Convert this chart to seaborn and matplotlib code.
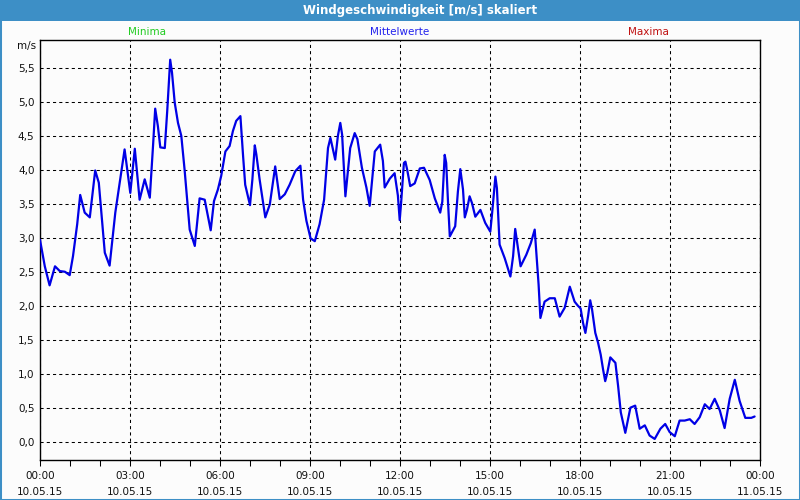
import matplotlib
matplotlib.use("Agg")
import matplotlib.pyplot as plt
import pandas as pd
import seaborn as sns
from matplotlib.patches import Rectangle

# ---- data (hours since 10.05.15 00:00, wind speed m/s) ----
hours = [0.00, 0.07, 0.16, 0.32, 0.50, 0.66, 0.83, 0.99, 1.10, 1.24, 1.34, 1.49,
         1.66, 1.84, 1.96, 2.16, 2.32, 2.51, 2.69, 2.82, 2.91, 3.01, 3.16, 3.32,
         3.49, 3.66, 3.77, 3.84, 3.93, 4.01, 4.16, 4.24, 4.34, 4.40, 4.49, 4.60,
         4.71, 4.82, 4.99, 5.16, 5.32, 5.49, 5.69, 5.80, 5.93, 6.04, 6.18, 6.32,
         6.43, 6.54, 6.68, 6.77, 6.84, 7.00, 7.08, 7.16, 7.21, 7.32, 7.51, 7.66,
         7.84, 7.99, 8.16, 8.32, 8.51, 8.68, 8.77, 8.88, 9.02, 9.16, 9.32, 9.47,
         9.60, 9.68, 9.84, 9.93, 10.01, 10.07, 10.18, 10.34, 10.49, 10.58, 10.73, 10.88,
         10.99, 11.16, 11.34, 11.43, 11.49, 11.66, 11.82, 11.93, 11.99, 12.04, 12.13, 12.18,
         12.24, 12.34, 12.49, 12.66, 12.80, 12.99, 13.16, 13.34, 13.41, 13.49, 13.54, 13.60,
         13.66, 13.84, 13.93, 14.01, 14.10, 14.16, 14.23, 14.32, 14.40, 14.51, 14.68, 14.84,
         15.01, 15.07, 15.18, 15.23, 15.32, 15.49, 15.68, 15.77, 15.84, 16.02, 16.21, 16.36,
         16.49, 16.57, 16.62, 16.68, 16.82, 16.99, 17.16, 17.32, 17.49, 17.66, 17.82, 17.93,
         18.02, 18.10, 18.18, 18.27, 18.34, 18.40, 18.51, 18.60, 18.69, 18.77, 18.84, 18.91,
         19.01, 19.18, 19.27, 19.36, 19.51, 19.68, 19.84, 19.99, 20.16, 20.32, 20.49, 20.68,
         20.84, 20.99, 21.16, 21.32, 21.49, 21.66, 21.82, 21.99, 22.16, 22.32, 22.49, 22.66,
         22.82, 22.99, 23.16, 23.32, 23.51, 23.71, 23.82]
speed = [2.97, 2.80, 2.58, 2.30, 2.58, 2.51, 2.50, 2.45, 2.73, 3.20, 3.63, 3.37,
         3.30, 3.99, 3.81, 2.78, 2.59, 3.37, 3.91, 4.30, 4.00, 3.66, 4.31, 3.56,
         3.86, 3.59, 4.37, 4.90, 4.64, 4.33, 4.32, 4.86, 5.62, 5.43, 4.99, 4.69,
         4.50, 4.00, 3.12, 2.88, 3.58, 3.56, 3.11, 3.54, 3.71, 3.91, 4.27, 4.35,
         4.57, 4.72, 4.79, 4.20, 3.78, 3.48, 3.86, 4.36, 4.23, 3.86, 3.30, 3.49,
         4.05, 3.57, 3.64, 3.78, 3.98, 4.06, 3.56, 3.25, 2.99, 2.95, 3.20, 3.56,
         4.32, 4.47, 4.15, 4.50, 4.69, 4.52, 3.61, 4.32, 4.54, 4.45, 4.03, 3.74,
         3.47, 4.27, 4.37, 4.13, 3.74, 3.87, 3.95, 3.62, 3.26, 3.53, 4.10, 4.12,
         4.00, 3.76, 3.80, 4.02, 4.03, 3.85, 3.58, 3.37, 3.53, 4.22, 4.10, 3.53,
         3.02, 3.17, 3.68, 4.01, 3.71, 3.30, 3.41, 3.61, 3.51, 3.31, 3.41, 3.22,
         3.09, 3.36, 3.90, 3.73, 2.90, 2.70, 2.43, 2.73, 3.13, 2.58, 2.75, 2.92,
         3.12, 2.63, 2.31, 1.82, 2.06, 2.11, 2.11, 1.84, 1.97, 2.28, 2.06, 2.00,
         1.96, 1.75, 1.60, 1.85, 2.08, 1.95, 1.60, 1.46, 1.28, 1.06, 0.89, 1.01,
         1.24, 1.16, 0.82, 0.43, 0.13, 0.50, 0.53, 0.19, 0.24, 0.09, 0.04, 0.19,
         0.26, 0.14, 0.08, 0.31, 0.31, 0.33, 0.26, 0.36, 0.55, 0.48, 0.63, 0.46,
         0.20, 0.63, 0.91, 0.60, 0.35, 0.35, 0.37]

tick_hours = [0, 3, 6, 9, 12, 15, 18, 21, 24]
tick_labels = ["00:00\n10.05.15", "03:00\n10.05.15", "06:00\n10.05.15",
               "09:00\n10.05.15", "12:00\n10.05.15", "15:00\n10.05.15",
               "18:00\n10.05.15", "21:00\n10.05.15", "00:00\n11.05.15"]
y_ticks = [0.0, 0.5, 1.0, 1.5, 2.0, 2.5, 3.0, 3.5, 4.0, 4.5, 5.0, 5.5]
y_labels = ["0,0", "0,5", "1,0", "1,5", "2,0", "2,5", "3,0", "3,5",
            "4,0", "4,5", "5,0", "5,5"]

title = "Windgeschwindigkeit [m/s] skaliert"
header_labels = ["Minima", "Mittelwerte", "Maxima"]
header_colors = ["#22cc22", "#2222ee", "#c01010"]

# ---- style ----
sns.set_style("white")
plt.rcParams['font.family'] = ['DejaVu Sans']

BLUE_BAR = "#3d8fc6"
fig = plt.figure(figsize=(8, 5), dpi=100, facecolor="#fcfcfc")
ax = fig.add_axes([40 / 800, 1 - 460 / 500, 720 / 800, 420 / 500])
ax.set_facecolor("#fcfcfc")

df = pd.DataFrame({"h": hours, "v": speed})
sns.lineplot(data=df, x="h", y="v", ax=ax, color="#0000e6", linewidth=1.6,
             estimator=None, sort=False, zorder=3)

ax.set_xlim(0, 24)
ax.set_ylim(-0.27, 5.91)
ax.set_xticks(tick_hours)
ax.set_xticklabels(tick_labels, fontsize=7.5, linespacing=1.75)
ax.set_xticks(range(0, 25), minor=True)
ax.set_yticks(y_ticks)
ax.set_yticklabels(y_labels, fontsize=7.5)
ax.set_xlabel("")
ax.set_ylabel("")

ax.grid(True, which="major", color="black", linestyle=(0, (3, 3)), linewidth=0.75)
ax.tick_params(axis="y", length=0, pad=4, labelcolor="#111111")
ax.tick_params(axis="x", which="both", length=4, width=0.75, direction="out",
               pad=4, color="black", labelcolor="#111111", bottom=True)
for s in ax.spines.values():
    s.set_visible(True)
    s.set_color("black")
    s.set_linewidth(1.0)

# window chrome: title bar + border
fig.patches.append(Rectangle((0, 1 - 21 / 500), 1, 21 / 500, transform=fig.transFigure,
                             facecolor=BLUE_BAR, edgecolor="none", zorder=0))
fig.patches.append(Rectangle((0, 0), 1, 1, transform=fig.transFigure, fill=False,
                             edgecolor=BLUE_BAR, linewidth=2.2, zorder=5))
fig.text(420 / 800, 1 - 10.5 / 500, title, color="white", fontsize=8.5,
         fontweight="bold", ha="center", va="center")

# header labels
for xpix, lab, col in zip([147, 400, 648], header_labels, header_colors):
    fig.text(xpix / 800, 1 - 32 / 500, lab, color=col, fontsize=7.5,
             ha="center", va="center")
fig.text(36 / 800, 1 - 46 / 500, "m/s", color="#111111", fontsize=7.5,
         ha="right", va="center")

fig.savefig("out.png", dpi=100, facecolor=fig.get_facecolor())
